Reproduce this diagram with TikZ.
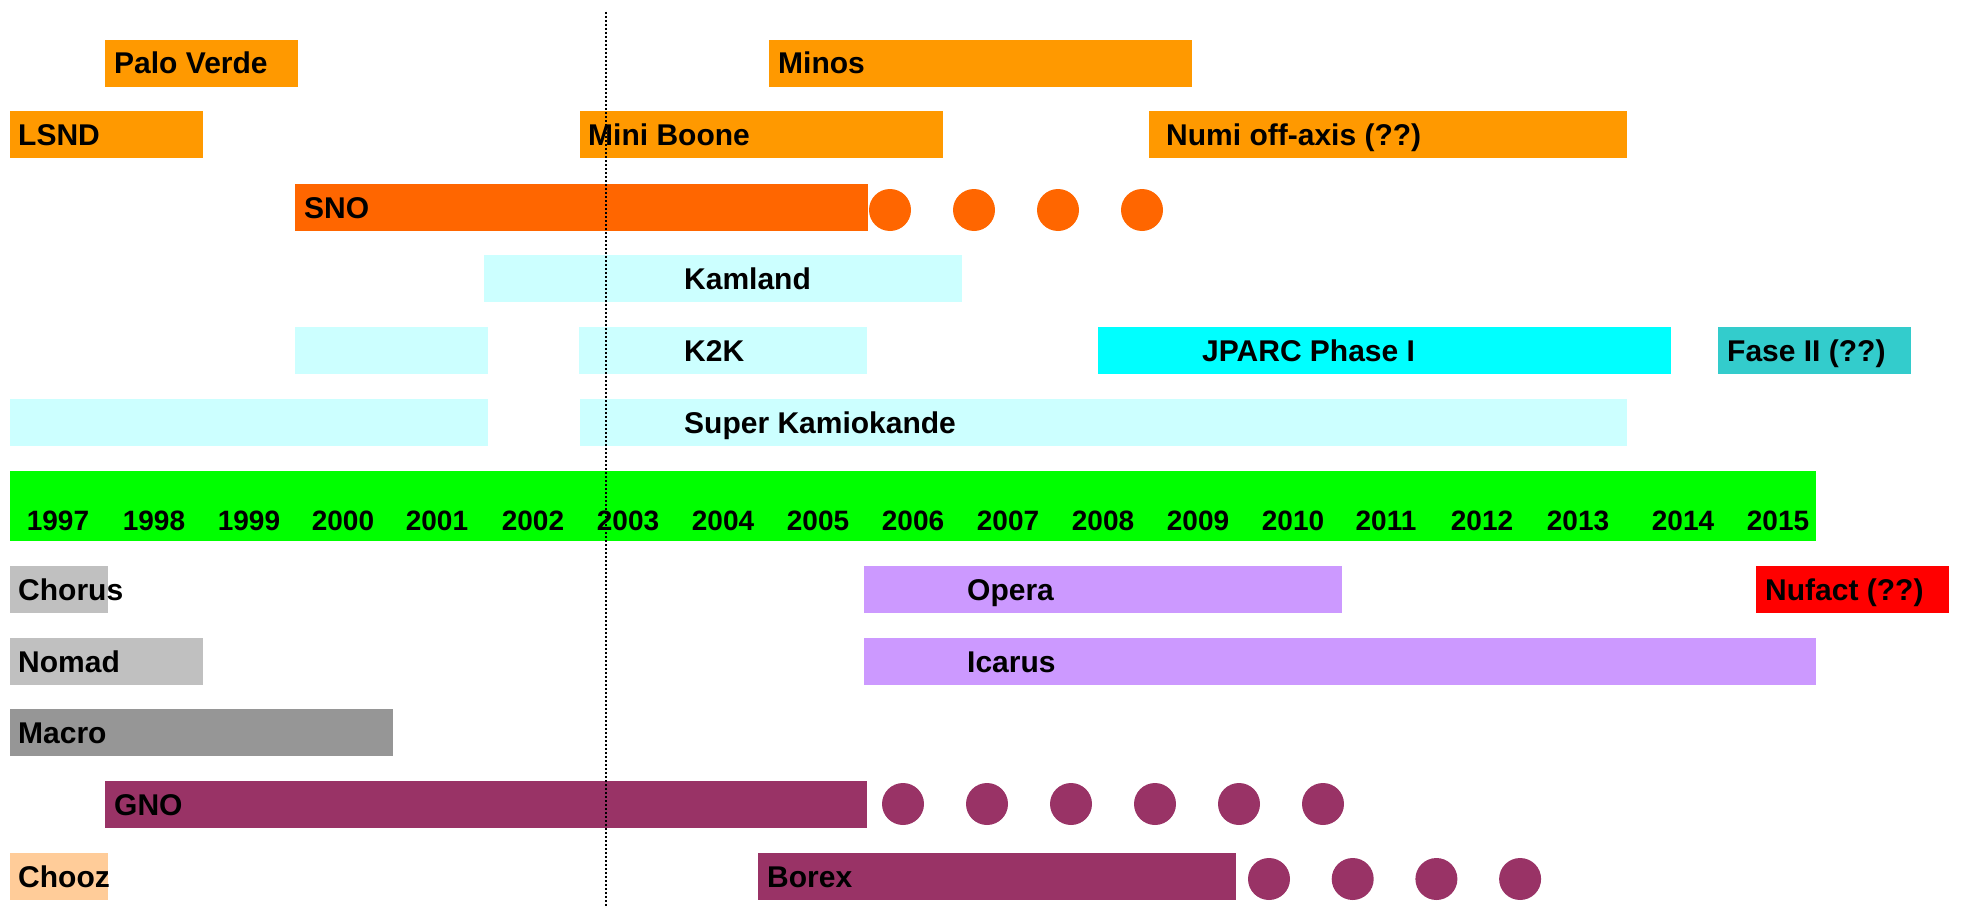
\documentclass[tikz,border=0pt]{standalone}
\usepackage{fontspec}
\setmainfont{Liberation Sans}
\usepackage{xcolor}
\definecolor{beam}{HTML}{FF9900}
\definecolor{solar}{HTML}{FF6600}
\definecolor{kamio}{HTML}{CCFFFF}
\definecolor{jparc}{HTML}{00FFFF}
\definecolor{fase}{HTML}{33CCCC}
\definecolor{years}{HTML}{00FF00}
\definecolor{cern}{HTML}{C0C0C0}
\definecolor{macro}{HTML}{969696}
\definecolor{chooz}{HTML}{FFCC99}
\definecolor{gallex}{HTML}{993366}
\definecolor{gransasso}{HTML}{CC99FF}
\definecolor{nufact}{HTML}{FF0000}
\tikzset{
    bar-label/.style = {anchor=base west, inner sep=0pt, font=\bfseries\fontsize{30}{36}\selectfont},
    year-label/.style = {anchor=base, inner sep=0pt, font=\bfseries\fontsize{28}{34}\selectfont},
}
% [label offset]{name}{colour}{from}{to}{row top}{text}
\newcommand{\tbar}[7][9]{%
    \fill[#3] (#4,#6) rectangle (#5,#6+47);
    \node[bar-label] (#2) at (#4+#1,#6+34) {#7};
}

\begin{document}
\begin{tikzpicture}[x=1pt, y=-1pt]
\useasboundingbox (0,0) rectangle (1961,907);

\tbar{paloverde}{beam}{105}{298}{40}{Palo Verde}
\tbar{minos}{beam}{769}{1192}{40}{Minos}
\tbar[8]{lsnd}{beam}{10}{203}{111}{LSND}
\tbar[8]{miniboone}{beam}{580}{943}{111}{Mini Boone}
\tbar[17]{numi}{beam}{1149}{1627}{111}{Numi off-axis (??)}
\tbar{sno}{solar}{295}{868}{184}{SNO}
\foreach \i in {0,...,3}
    \fill[solar] (890+84*\i,210) circle (21);
\tbar[200]{kamland}{kamio}{484}{962}{255}{Kamland}
\fill[kamio] (295,327) rectangle (488,374);
\tbar[105]{ktok}{kamio}{579}{867}{327}{K2K}
\tbar[104]{jparc}{jparc}{1098}{1671}{327}{JPARC Phase I}
\tbar{faseII}{fase}{1718}{1911}{327}{Fase II (??)}
\fill[kamio] (10,399) rectangle (488,446);
\tbar[104]{superk}{kamio}{580}{1627}{399}{Super Kamiokande}

% years
\fill[years] (10,471) rectangle (1816,541);
\foreach \yr/\x in {1997/58, 1998/154, 1999/249, 2000/343, 2001/437, 2002/533,
    2003/628, 2004/723, 2005/818, 2006/913, 2007/1008, 2008/1103, 2009/1198,
    2010/1293, 2011/1386, 2012/1482, 2013/1578, 2014/1683, 2015/1778}
    \node[year-label] (y\yr) at (\x,530) {\yr};

\tbar[8]{chorus}{cern}{10}{108}{566}{Chorus}
\tbar[103]{opera}{gransasso}{864}{1342}{566}{Opera}
\tbar{nufact}{nufact}{1756}{1949}{566}{Nufact (??)}
\tbar[8]{nomad}{cern}{10}{203}{638}{Nomad}
\tbar[103]{icarus}{gransasso}{864}{1816}{638}{Icarus}
\tbar[8]{macro}{macro}{10}{393}{709}{Macro}
\tbar{gno}{gallex}{105}{867}{781}{GNO}
\foreach \i in {0,...,5}
    \fill[gallex] (903+84*\i,804) circle (21);
\tbar[8]{chooz}{chooz}{10}{108}{853}{Chooz}
\tbar{borex}{gallex}{758}{1236}{853}{Borex}
\foreach \i in {0,...,3}
    \fill[gallex] (1269+83.7*\i,879) circle (21);

% today
\coordinate (now top) at (606,12);
\coordinate (now bottom) at (606,907);
\draw[dotted, line width=2pt] (now top) -- (now bottom);
\end{tikzpicture}
\end{document}
